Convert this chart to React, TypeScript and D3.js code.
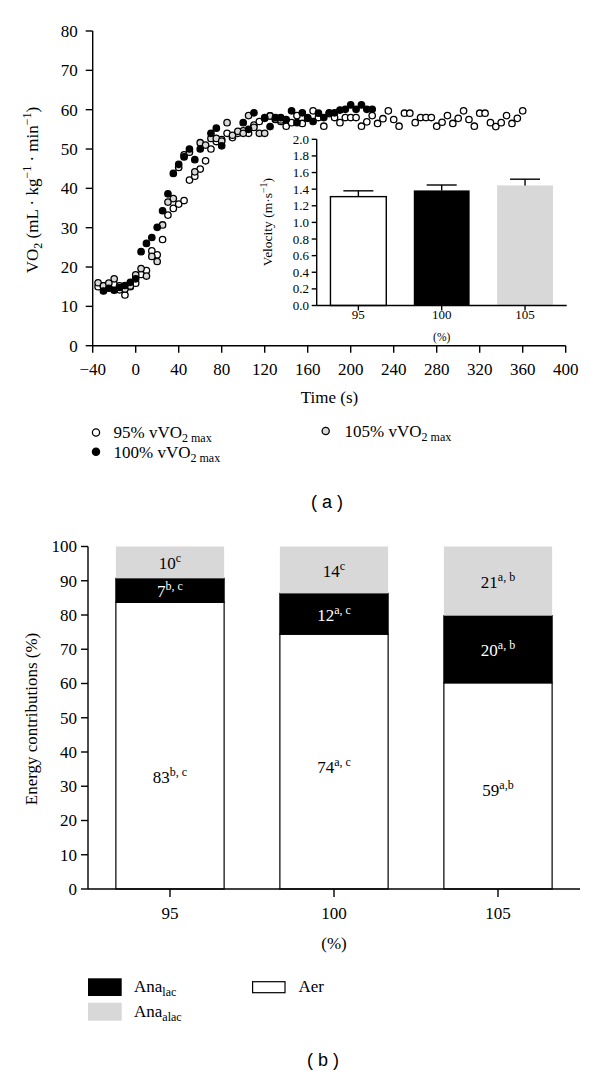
import React from "react";
import * as d3 from "d3";

// ---------- Panel (a): VO2 kinetics ----------
const t95 = [-35,-30,-25,-20,-15,-10,-5,0,5,10,15,20,25,30,35,40,45,50,55,60,65,70,75,80,85,90,95,100,105,110,115,120,125,130,135,140,145,150,155,160,165,170,175,180,185,190,195,200,205,210,215,220,225,230,235,240,245,250,255,260,265,270,275,280,285,290,295,300,305,310,315,320,325,330,335,340,345,350,355,360];
const v95 = [15.0,15.2,15.5,15.6,14.2,12.9,15.0,15.9,18.1,19.1,24.1,23.1,27.0,33.2,34.9,36.0,36.9,42.1,43.1,44.9,47.0,50.0,51.9,52.4,54.0,52.9,54.0,54.6,54.0,56.1,57.0,57.8,58.4,57.5,57.0,55.8,56.7,58.5,56.5,57.8,59.7,58.0,55.8,59.0,58.0,56.7,58.0,58.0,58.0,55.8,56.9,58.5,56.5,57.7,59.7,57.5,55.8,59.1,59.1,56.7,58.0,58.0,58.0,55.8,56.8,58.5,56.5,57.8,59.7,57.5,55.8,59.1,59.1,56.7,55.7,56.7,58.5,56.5,57.8,59.7];

const t100 = [-30,-25,-20,-15,-10,-5,0,5,10,15,20,25,30,35,40,45,50,55,60,70,75,80,100,105,110,120,125,130,135,140,145,150,155,160,165,170,175,180,185,190,195,200,205,210,215,220];
const v100 = [13.9,14.6,14.1,14.8,15.3,16.1,17.0,23.9,26.0,27.5,30.1,34.3,38.6,43.8,46.1,48.0,50.0,47.3,50.0,54.0,55.3,50.8,56.7,55.0,59.2,58.0,55.7,58.0,58.0,57.5,59.7,56.7,59.2,58.0,57.0,59.1,58.0,59.2,59.2,59.9,60.1,61.2,60.1,61.2,60.1,60.1];

const t105 = [-35,-30,-25,-20,-15,-10,-5,0,5,10,15,20,25,30,35,40,45,50,55,60,65,70,75,80,85,90,95,100,105,110,115,120,125,130,135];
const v105 = [16.0,15.2,15.9,17.0,15.2,14.4,15.2,18.0,19.6,17.7,22.7,21.4,30.7,36.5,37.4,45.3,48.5,49.2,44.2,51.6,51.0,52.7,52.7,52.0,56.7,53.5,54.5,54.0,58.5,55.5,54.0,54.0,58.4,57.6,57.4];

const xTicksTop = [-40,0,40,80,120,160,200,240,280,320,360,400];
const yTicksTop = [0,10,20,30,40,50,60,70,80];

// inset: velocity
const insetCats = ["95","100","105"];
const velocity = [1.31,1.385,1.445];
const velocityErr = [0.07,0.065,0.075];
const insetTicks = [0,0.2,0.4,0.6,0.8,1.0,1.2,1.4,1.6,1.8,2.0];

// ---------- Panel (b): energy contributions ----------
const energyCats = ["95","100","105"];
const aer = [83.7,74.4,60.2];
const anaLac = [7.0,11.9,19.6];
const anaAlac = [9.3,13.7,20.2];
const aerLabels = ["83","74","59"];
const aerSup = ["b, c","a, c","a,b"];
const lacLabels = ["7","12","20"];
const lacSup = ["b, c","a, c","a, b"];
const alacLabels = ["10","14","21"];
const alacSup = ["c","c","a, b"];
const aerLabelAt = [33,36,29];
const yTicksBottom = [0,10,20,30,40,50,60,70,80,90,100];

const SERIF = "'Liberation Serif', 'DejaVu Serif', serif";
const SANS = "'Liberation Sans', Arial, sans-serif";
const GRAY = "#d8d8d8";

export default function App() {
  // scales panel (a)
  const xT = d3.scaleLinear().domain([-40, 400]).range([92.7, 565.7]);
  const yT = d3.scaleLinear().domain([0, 80]).range([345.7, 31]);
  const xI = d3.scaleBand<string>().domain(insetCats).range([316.7, 566.7]).paddingInner(0.33).paddingOuter(0.165);
  const yI = d3.scaleLinear().domain([0, 2]).range([305.5, 139.3]);

  // scales panel (b)
  const BX0 = 88, BX1 = 580;
  const xB = d3.scaleBand<string>().domain(energyCats).range([BX0, BX1]).paddingInner(0.34).paddingOuter(0.17);
  const yB = d3.scaleLinear().domain([0, 100]).range([889, 546.5]);

  const stackData = energyCats.map((c, i) => ({ cat: c, aer: aer[i], lac: anaLac[i], alac: anaAlac[i] }));
  const series = d3.stack<any>().keys(["aer", "lac", "alac"])(stackData);
  const fills: Record<string, string> = { aer: "#ffffff", lac: "#000000", alac: GRAY };

  const pts = (ts: number[], vs: number[]) => ts.map((t, i) => ({ t, v: vs[i] }));
  const s95 = pts(t95, v95);
  const s100 = pts(t100, v100);
  const s105 = pts(t105, v105);
  const R = 3.2;

  const insetColors = ["#ffffff", "#000000", GRAY];
  const bc = (c: string) => (xB(c) as number) + xB.bandwidth() / 2;

  return (
    <svg width={600} height={1076} style={{ position: "absolute", left: 0, top: 0, background: "#fff" }}
      fontFamily={SERIF}>
      <rect x={0} y={0} width={600} height={1076} fill="#fff" />
      {/* ---------------- Panel (a) ---------------- */}
      <g stroke="#000" strokeWidth={1.4} fill="none">
        <line x1={xT(-40)} x2={xT(-40)} y1={yT(80)} y2={yT(0)} />
        <line x1={xT(-40)} x2={xT(400)} y1={yT(0)} y2={yT(0)} />
        {yTicksTop.map((t) => (
          <line key={"yt" + t} x1={xT(-40) - 7} x2={xT(-40)} y1={yT(t)} y2={yT(t)} />
        ))}
        {xTicksTop.map((t) => (
          <line key={"xt" + t} x1={xT(t)} x2={xT(t)} y1={yT(0)} y2={yT(0) + 7} />
        ))}
      </g>
      <g fontSize={17} fill="#000">
        {yTicksTop.map((t) => (
          <text key={"yl" + t} x={xT(-40) - 15} y={yT(t)} dy="0.35em" textAnchor="end">{t}</text>
        ))}
        {xTicksTop.map((t) => (
          <text key={"xl" + t} x={xT(t)} y={369} dy="0.35em" textAnchor="middle">
            {t < 0 ? "\u2212" + Math.abs(t) : t}
          </text>
        ))}
        <text x={329.5} y={403} textAnchor="middle">Time (s)</text>
        <text transform="translate(38,190) rotate(-90)" textAnchor="middle">
          VO<tspan dy={4} fontSize={12}>2</tspan>
          <tspan dy={-4}> (mL · kg</tspan>
          <tspan dy={-7} fontSize={12}>{"\u22121"}</tspan>
          <tspan dy={7}> · min</tspan>
          <tspan dy={-7} fontSize={12}>{"\u22121"}</tspan>
          <tspan dy={7}>)</tspan>
        </text>
      </g>

      {/* scatter */}
      <g stroke="#000" strokeWidth={1.3}>
        {s95.map((p, i) => (
          <circle key={"w" + i} cx={xT(p.t)} cy={yT(p.v)} r={R} fill="#fff" />
        ))}
        {s105.map((p, i) => (
          <circle key={"g" + i} cx={xT(p.t)} cy={yT(p.v)} r={R} fill={GRAY} />
        ))}
        {s100.map((p, i) => (
          <circle key={"b" + i} cx={xT(p.t)} cy={yT(p.v)} r={R} fill="#000" />
        ))}
      </g>

      {/* inset */}
      <g>
        {insetCats.map((c, i) => (
          <rect key={"ib" + c} x={xI(c)} y={yI(velocity[i])} width={xI.bandwidth()}
            height={yI(0) - yI(velocity[i])} fill={insetColors[i]}
            stroke={i === 0 ? "#000" : "none"} strokeWidth={1.4} />
        ))}
        <g stroke="#000" strokeWidth={1.4}>
          {insetCats.map((c, i) => {
            const cx = (xI(c) as number) + xI.bandwidth() / 2;
            return (
              <g key={"ie" + c}>
                <line x1={cx} x2={cx} y1={yI(velocity[i])} y2={yI(velocity[i] + velocityErr[i])} />
                <line x1={cx - 15} x2={cx + 15} y1={yI(velocity[i] + velocityErr[i])} y2={yI(velocity[i] + velocityErr[i])} />
              </g>
            );
          })}
          <line x1={316.7} x2={316.7} y1={yI(2)} y2={yI(0)} />
          <line x1={316.7} x2={566.7} y1={yI(0)} y2={yI(0)} />
          {insetTicks.map((t) => (
            <line key={"it" + t} x1={311.7} x2={316.7} y1={yI(t)} y2={yI(t)} />
          ))}
          {insetCats.map((c) => {
            const cx = (xI(c) as number) + xI.bandwidth() / 2;
            return <line key={"ixt" + c} x1={cx} x2={cx} y1={yI(0)} y2={yI(0) + 5} />;
          })}
        </g>
        <g fontSize={13} fill="#000">
          {insetTicks.map((t) => (
            <text key={"il" + t} x={309} y={yI(t)} dy="0.35em" textAnchor="end">{t.toFixed(1)}</text>
          ))}
          {insetCats.map((c) => (
            <text key={"ixl" + c} x={(xI(c) as number) + xI.bandwidth() / 2} y={318.5} textAnchor="middle">{c}</text>
          ))}
          <text x={(xI("100") as number) + xI.bandwidth() / 2} y={340.5} fontSize={11.5} textAnchor="middle">(%)</text>
          <text transform="translate(272,222) rotate(-90)" textAnchor="middle" fontSize={13.5}>
            Velocity (m·s<tspan dy={-5} fontSize={10}>{"\u22121"}</tspan><tspan dy={5}>)</tspan>
          </text>
        </g>
      </g>

      {/* legend (a) */}
      <g stroke="#000" strokeWidth={1.3}>
        <circle cx={96} cy={432.5} r={3.6} fill="#fff" />
        <circle cx={96} cy={451.7} r={3.6} fill="#000" />
        <circle cx={325.7} cy={431} r={3.6} fill={GRAY} />
      </g>
      <g fontSize={17} fill="#000">
        <text x={113.5} y={438}>95% vVO<tspan dy={4} fontSize={12}>2 max</tspan></text>
        <text x={113.5} y={457.5}>100% vVO<tspan dy={4} fontSize={12}>2 max</tspan></text>
        <text x={344.6} y={436.5}>105% vVO<tspan dy={4} fontSize={12}>2 max</tspan></text>
      </g>
      <text x={327} y={508} fontFamily={SANS} fontSize={18} textAnchor="middle">( a )</text>

      {/* ---------------- Panel (b) ---------------- */}
      {series.map((s) => (
        <g key={s.key}>
          {s.map((d: any, i: number) => (
            <rect key={s.key + i} x={xB(energyCats[i])} y={yB(d[1])} width={xB.bandwidth()}
              height={yB(d[0]) - yB(d[1])} fill={fills[s.key]}
              stroke={s.key === "alac" ? "none" : "#000"} strokeWidth={1.2} />
          ))}
        </g>
      ))}
      <g stroke="#000" strokeWidth={1.4}>
        <line x1={BX0} x2={BX0} y1={yB(100)} y2={yB(0)} />
        <line x1={BX0} x2={BX1} y1={yB(0)} y2={yB(0)} />
        {yTicksBottom.map((t) => (
          <line key={"byt" + t} x1={BX0 - 7} x2={BX0} y1={yB(t)} y2={yB(t)} />
        ))}
        {energyCats.map((c) => (
          <line key={"bxt" + c} x1={bc(c)} x2={bc(c)} y1={yB(0)} y2={yB(0) + 8} />
        ))}
      </g>
      <g fontSize={17} fill="#000">
        {yTicksBottom.map((t) => (
          <text key={"byl" + t} x={BX0 - 11} y={yB(t)} dy="0.35em" textAnchor="end">{t}</text>
        ))}
        {energyCats.map((c) => (
          <text key={"bxl" + c} x={bc(c)} y={913} dy="0.35em" textAnchor="middle">{c}</text>
        ))}
        <text x={bc("100")} y={943} dy="0.35em" textAnchor="middle">(%)</text>
        <text transform="translate(31,719) rotate(-90)" textAnchor="middle" dy="0.35em">Energy contributions (%)</text>
      </g>
      {/* segment labels */}
      <g fontSize={17} textAnchor="middle">
        {energyCats.map((c, i) => {
          const cx = bc(c);
          const midLac = aer[i] + anaLac[i] / 2;
          const midAlac = aer[i] + anaLac[i] + anaAlac[i] / 2;
          return (
            <g key={"lab" + c}>
              <text x={cx} y={yB(midAlac)} dy="0.4em" fill="#000">
                {alacLabels[i]}<tspan dy={-7} fontSize={12}>{alacSup[i]}</tspan>
              </text>
              <text x={cx} y={yB(midLac)} dy="0.4em" fill="#fff">
                {lacLabels[i]}<tspan dy={-7} fontSize={12}>{lacSup[i]}</tspan>
              </text>
              <text x={cx} y={yB(aerLabelAt[i])} dy="0.4em" fill="#000">
                {aerLabels[i]}<tspan dy={-7} fontSize={12}>{aerSup[i]}</tspan>
              </text>
            </g>
          );
        })}
      </g>

      {/* legend (b) */}
      <rect x={88} y={978.3} width={33.7} height={17.7} fill="#000" />
      <rect x={88} y={1002.7} width={33.7} height={18} fill={GRAY} />
      <rect x={252.6} y={981.7} width={32.4} height={11} fill="#fff" stroke="#000" strokeWidth={1.2} />
      <g fontSize={17} fill="#000">
        <text x={134} y={992}>Ana<tspan dy={4} fontSize={12}>lac</tspan></text>
        <text x={134} y={1017}>Ana<tspan dy={4} fontSize={12}>alac</tspan></text>
        <text x={298.5} y={992}>Aer</text>
      </g>
      <text x={323} y={1066} fontFamily={SANS} fontSize={18} textAnchor="middle">( b )</text>
    </svg>
  );
}
